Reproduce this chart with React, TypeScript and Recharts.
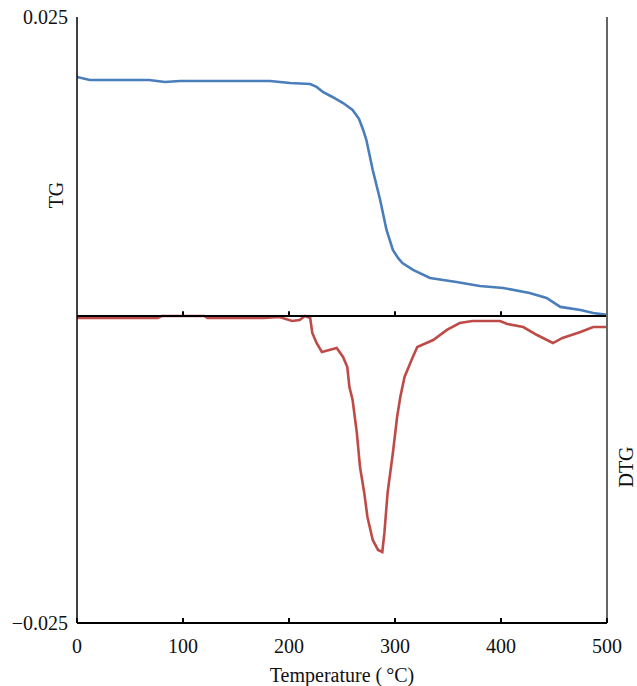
import React from 'react';
import { LineChart, Line, XAxis, YAxis, ReferenceLine } from 'recharts';

// Temperature (°C) and TG values
const tgTemp = [0, 12, 68, 83, 97, 182, 201, 220, 226, 232, 241, 251, 260, 266, 270, 273, 279, 286, 292, 298, 303, 307, 317, 333, 358, 380, 402, 427, 443, 456, 475, 487, 500];
const tgValue = [0.02005, 0.0198, 0.0198, 0.01964, 0.01972, 0.01972, 0.01956, 0.01947, 0.01923, 0.01881, 0.0184, 0.0179, 0.01733, 0.0166, 0.01568, 0.01485, 0.01238, 0.0099, 0.00743, 0.00578, 0.0051, 0.0047, 0.00413, 0.00347, 0.00314, 0.00281, 0.00264, 0.00223, 0.00182, 0.00108, 0.00083, 0.00058, 0.00042];

// Temperature (°C) and DTG values
const dtgTemp = [0, 76, 80, 120, 123, 176, 191, 203, 210, 215, 220, 222, 226, 231, 238, 245, 251, 255, 257, 260, 264, 267, 271, 274, 279, 284, 288, 290, 293, 298, 302, 305, 309, 316, 321, 336, 349, 361, 373, 399, 406, 421, 434, 449, 458, 475, 487, 500];
const dtgValue = [0.000167, 0.000167, 0.00033, 0.00033, 0.000167, 0.000167, 0.00025, -0.00008, 0.0, 0.00033, 0.000167, -0.00107, -0.0019, -0.00264, -0.00247, -0.00231, -0.00305, -0.00388, -0.00553, -0.0066, -0.00932, -0.01213, -0.01427, -0.01625, -0.01815, -0.01897, -0.01914, -0.01757, -0.01427, -0.01097, -0.008, -0.00635, -0.0047, -0.00322, -0.00223, -0.00165, -0.00082, -0.00025, -0.00008, -0.00008, -0.00033, -0.00058, -0.00124, -0.0019, -0.00148, -0.00099, -0.00058, -0.00058];

const xTicks = [0, 100, 200, 300, 400, 500];
const innerTicks = [100, 200, 300, 400];
const yTicks = [-0.025, 0.025];
const baseline = 0.00033;
const innerTickLen = 0.0004;

const tgData = tgTemp.map((t, i) => ({ t, v: tgValue[i] }));
const dtgData = dtgTemp.map((t, i) => ({ t, v: dtgValue[i] }));

const FONT = '"Liberation Serif", "Times New Roman", serif';
const FS = 20;

const XTick = (props: any) => {
  const { x, y, payload } = props;
  return (
    <g>
      <line x1={x} x2={x} y1={y - 5} y2={y} stroke="#000" strokeWidth={2} />
      <text x={x} y={y + 30} textAnchor="middle" fontSize={FS} fontFamily={FONT} fill="#111">
        {payload.value}
      </text>
    </g>
  );
};

const fmtY = (v: number) => (v < 0 ? '\u2212' : '') + Math.abs(v).toFixed(3);

export default function App() {
  return (
    <div style={{ position: 'absolute', left: 0, top: 0, background: '#fff' }}>
      <LineChart width={637} height={686} margin={{ top: 17, right: 0, bottom: 0, left: 0 }}>
        <XAxis
          xAxisId="b"
          type="number"
          dataKey="t"
          domain={[0, 500]}
          ticks={xTicks}
          allowDataOverflow
          height={63}
          tickSize={0}
          tickMargin={0}
          tickLine={false}
          tick={<XTick />}
          axisLine={{ stroke: '#000', strokeWidth: 2 }}
          label={{
            content: (p: any) => {
              const vb = p.viewBox;
              return (
                <text x={vb.x + vb.width / 2} y={vb.y + 59} textAnchor="middle" fontSize={FS} fontFamily={FONT} fill="#111">
                  Temperature (&#8201;°C)
                </text>
              );
            },
          }}
        />
        <XAxis
          xAxisId="t"
          type="number"
          dataKey="t"
          orientation="top"
          domain={[0, 500]}
          height={0}
          tick={false}
          tickLine={false}
          axisLine={{ stroke: '#000', strokeWidth: 1.5 }}
        />
        <YAxis
          yAxisId="l"
          type="number"
          domain={[-0.025, 0.025]}
          ticks={yTicks}
          width={77}
          tickSize={0}
          tickMargin={9}
          tickLine={false}
          tickFormatter={fmtY}
          tick={{ fontSize: FS, fontFamily: FONT, fill: '#111' }}
          axisLine={{ stroke: '#000', strokeWidth: 1.5 }}
          label={{
            content: (p: any) => {
              const vb = p.viewBox;
              const cx = vb.x + 56;
              const cy = vb.y + 178;
              return (
                <text x={cx} y={cy} textAnchor="middle" dominantBaseline="central" transform={`rotate(-90 ${cx} ${cy})`} fontSize={FS} fontFamily={FONT} fill="#111">
                  TG
                </text>
              );
            },
          }}
        />
        <YAxis
          yAxisId="r"
          orientation="right"
          type="number"
          domain={[-0.025, 0.025]}
          width={30}
          tick={false}
          tickLine={false}
          axisLine={{ stroke: '#666', strokeWidth: 2 }}
          label={{
            content: (p: any) => {
              const vb = p.viewBox;
              const cx = vb.x + 19;
              const cy = vb.y + 450;
              return (
                <text x={cx} y={cy} textAnchor="middle" dominantBaseline="central" transform={`rotate(-90 ${cx} ${cy})`} fontSize={FS} fontFamily={FONT} fill="#111">
                  DTG
                </text>
              );
            },
          }}
        />
        <Line
          xAxisId="b"
          yAxisId="l"
          data={tgData}
          dataKey="v"
          type="linear"
          stroke="#4a7ebb"
          strokeWidth={2.6}
          dot={false}
          isAnimationActive={false}
        />
        <Line
          xAxisId="b"
          yAxisId="l"
          data={dtgData}
          dataKey="v"
          type="linear"
          stroke="#be4b48"
          strokeWidth={2.6}
          dot={false}
          isAnimationActive={false}
        />
        <ReferenceLine xAxisId="b" yAxisId="l" y={baseline} stroke="#000" strokeWidth={1.8} />
        {innerTicks.map((t) => (
          <ReferenceLine
            key={t}
            xAxisId="b"
            yAxisId="l"
            segment={[
              { x: t, y: baseline },
              { x: t, y: baseline + innerTickLen },
            ]}
            stroke="#000"
            strokeWidth={2}
          />
        ))}
      </LineChart>
    </div>
  );
}
